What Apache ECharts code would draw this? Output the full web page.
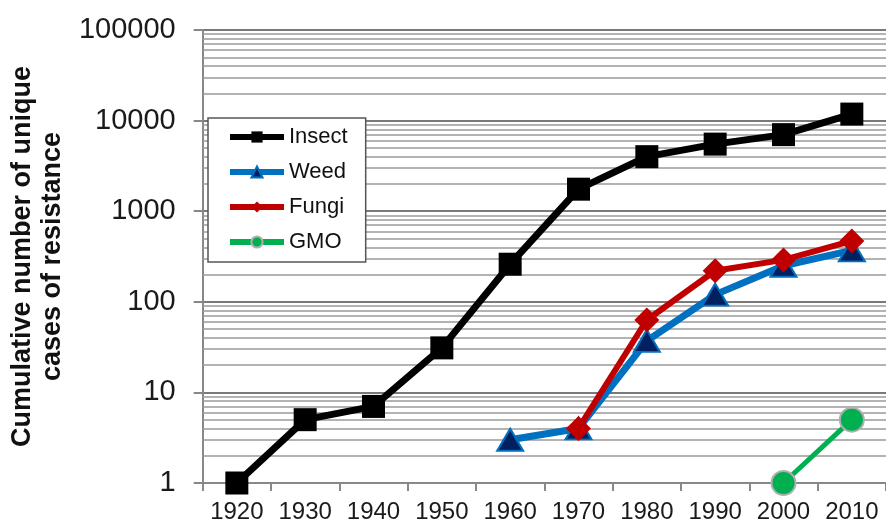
<!DOCTYPE html>
<html>
<head>
<meta charset="utf-8">
<script src="https://cdn.jsdelivr.net/npm/echarts@6/dist/echarts.min.js"></script>
<style>
    html, body { margin: 0; padding: 0; background: #fff; }
    #chart-box { width: 886px; height: 527px; }
</style>
</head>
<body>
<div id="chart-box"></div>
<script>
    // decades on the x axis
    const years = ['1920', '1930', '1940', '1950', '1960', '1970', '1980', '1990', '2000', '2010'];

    // cumulative cases
    const insect = [1, 5, 7, 31, 260, 1750, 4000, 5500, 7000, 11800];
    const weed = [null, null, null, null, 3, 4, 37, 120, 250, 370];
    const fungi = [null, null, null, null, null, 4, 63, 220, 290, 470];
    const gmo = [null, null, null, null, null, null, null, null, 1, 5];

    // minor grid lines of the log axis (2..9 in each decade)
    const minorGrid = [];
    [1, 10, 100, 1000, 10000].forEach(function (d) {
        for (let k = 2; k <= 9; k++) minorGrid.push({yAxis: d * k});
    });

    const font = 'Liberation Sans, Arial, sans-serif';

    let option = {
        animation: false,
        backgroundColor: '#fff',
        textStyle: {fontFamily: font},
        grid: {left: 201, top: 30, width: 690, height: 453, containLabel: false},
        legend: {
            data: ['Insect', 'Weed', 'Fungi', 'GMO'],
            orient: 'vertical',
            left: 208,
            top: 118,
            z: 10,
            itemWidth: 54,
            itemHeight: 14,
            itemGap: 13,
            padding: [8, 18, 9, 19],
            backgroundColor: '#fff',
            borderColor: '#555',
            borderWidth: 1.5,
            lineStyle: {width: 6},
            textStyle: {fontSize: 22, color: '#111', fontFamily: font}
        },
        xAxis: {
            type: 'category',
            data: years,
            boundaryGap: true,
            axisLine: {lineStyle: {color: '#888', width: 2}},
            axisTick: {show: true, interval: 0, length: 8, lineStyle: {color: '#888', width: 2}},
            axisLabel: {fontSize: 24, color: '#1a1a1a', margin: 17, interval: 0}
        },
        yAxis: {
            type: 'log',
            logBase: 10,
            min: 1,
            max: 100000,
            name: 'Cumulative number of unique\ncases of resistance',
            nameLocation: 'middle',
            nameGap: 128,
            nameTextStyle: {fontSize: 27, fontWeight: 'bold', color: '#111', lineHeight: 30},
            axisLine: {show: true, lineStyle: {color: '#888', width: 2}},
            axisTick: {show: true, length: 9, lineStyle: {color: '#888', width: 2}},
            axisLabel: {
                fontSize: 29, color: '#1a1a1a', margin: 27,
                formatter: function (v) { return String(v); }
            },
            splitLine: {show: true, lineStyle: {color: '#7a7a7a', width: 2}}
        },
        series: [
            {
                name: 'grid',
                type: 'line',
                data: [],
                z: 1,
                silent: true,
                markLine: {
                    z: 1,
                    silent: true,
                    symbol: 'none',
                    label: {show: false},
                    lineStyle: {color: '#9a9a9a', width: 1.6, type: 'solid'},
                    data: minorGrid
                }
            },
            {
                name: 'Insect',
                type: 'line',
                data: insect,
                z: 5,
                symbol: 'rect',
                symbolSize: 23,
                lineStyle: {color: '#000', width: 7},
                itemStyle: {color: '#000'}
            },
            {
                name: 'Weed',
                type: 'line',
                data: weed,
                z: 3,
                symbol: 'triangle',
                symbolSize: [26, 22],
                lineStyle: {color: '#0070C0', width: 7},
                itemStyle: {color: '#002060', borderColor: '#0070C0', borderWidth: 2}
            },
            {
                name: 'Fungi',
                type: 'line',
                data: fungi,
                z: 4,
                symbol: 'diamond',
                symbolSize: 25,
                lineStyle: {color: '#C00000', width: 6},
                itemStyle: {color: '#C00000'}
            },
            {
                name: 'GMO',
                type: 'line',
                data: gmo,
                z: 4,
                symbol: 'circle',
                symbolSize: 24,
                lineStyle: {color: '#00B050', width: 5},
                itemStyle: {color: '#00B050', borderColor: '#b0b0b0', borderWidth: 2}
            }
        ]
    };

    let chart = echarts.init(document.getElementById('chart-box'));
    chart.setOption(option);
</script>
</body>
</html>
